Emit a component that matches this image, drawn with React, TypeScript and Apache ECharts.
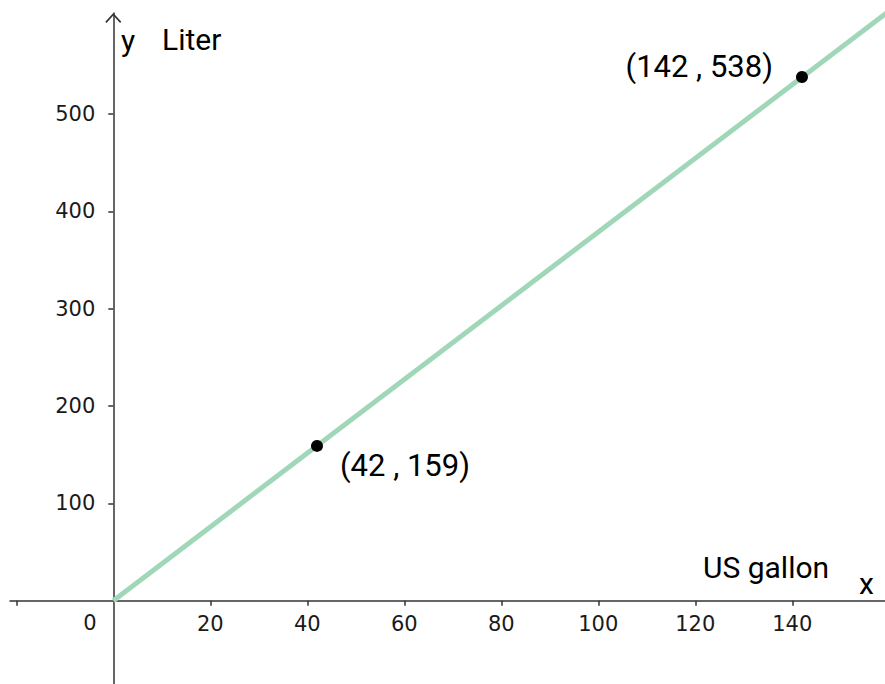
import React, { useEffect, useRef } from "react";
import * as echarts from "echarts";

// axis ticks and labels
const xTickValues = [-20, 20, 40, 60, 80, 100, 120, 140];
const xLabelValues = [20, 40, 60, 80, 100, 120, 140];
const yTickValues = [100, 200, 300, 400, 500];
const yLabelValues = [100, 200, 300, 400, 500];

// the conversion line (US gallon -> Liter)
const lineX = [0, 160];
const lineY = [0, 606];

// marked points
const pointX = [42, 142];
const pointY = [159, 538];
const pointText = ["(42 , 159)", "(142 , 538)"];

const AXIS_COLOR = "#333333";
const LINE_COLOR = "#a1d7b9";

// layout (pixels)
const W = 885;
const H = 684;
const GRID_LEFT = 10;
const GRID_TOP = 13;
const ORIGIN_X = 113.3;
const ORIGIN_Y = 600.7;

export default function App() {
  const ref = useRef<HTMLDivElement>(null);

  useEffect(() => {
    if (!ref.current) return;
    const chart = echarts.init(ref.current, null, { renderer: "svg" });

    const labelFont = {
      fontFamily: "DejaVu Sans",
      fontSize: 21,
      color: "#1a1a1a",
    };

    const option: any = {
      animation: false,
      grid: {
        left: GRID_LEFT,
        right: 0,
        top: GRID_TOP,
        bottom: 0,
        containLabel: false,
        outerBoundsMode: "none",
      },
      xAxis: {
        type: "value",
        position: "bottom",
        offset: -(H - ORIGIN_Y),
        min: -21.3,
        max: 159.12,
        axisLine: {
          show: true,
          onZero: false,
          lineStyle: { color: AXIS_COLOR, width: 1.5 },
        },
        axisTick: {
          show: true,
          customValues: xTickValues,
          length: 5,
          lineStyle: { color: AXIS_COLOR, width: 1.5 },
        },
        axisLabel: {
          show: true,
          customValues: xLabelValues,
          margin: 13,
          ...labelFont,
        },
        splitLine: { show: false },
      },
      yAxis: {
        type: "value",
        position: "left",
        offset: -(ORIGIN_X - GRID_LEFT),
        min: -85.6,
        max: 603.75,
        axisLine: {
          show: true,
          onZero: false,
          symbol: ["none", "path://M8,0 L16,8.6 L14.8,9.8 L8,2.4 L1.2,9.8 L0,8.6 Z"],
          symbolSize: [16, 10],
          symbolOffset: [0, -5],
          lineStyle: { color: AXIS_COLOR, width: 1.5 },
        },
        axisTick: {
          show: true,
          customValues: yTickValues,
          length: 5,
          lineStyle: { color: AXIS_COLOR, width: 1.5 },
        },
        axisLabel: {
          show: true,
          customValues: yLabelValues,
          margin: 18,
          ...labelFont,
        },
        splitLine: { show: false },
      },
      series: [
        {
          type: "line",
          data: lineX.map((x, i) => [x, lineY[i]]),
          showSymbol: false,
          symbol: "none",
          lineStyle: { color: LINE_COLOR, width: 5 },
          z: 1,
          silent: true,
        },
        {
          type: "scatter",
          data: [
            {
              value: [pointX[0], pointY[0]],
              label: {
                show: true,
                formatter: pointText[0],
                position: "right",
                offset: [12, 20],
              },
            },
            {
              value: [pointX[1], pointY[1]],
              label: {
                show: true,
                formatter: pointText[1],
                position: "left",
                offset: [-18, -10],
              },
            },
          ],
          symbol: "circle",
          symbolSize: 12,
          itemStyle: { color: "#000", opacity: 1 },
          label: {
            fontFamily: "Roboto",
            fontSize: 31,
            color: "#000",
          },
          z: 5,
          silent: true,
        },
        {
          type: "scatter",
          data: [
            {
              value: [0, 0],
              label: {
                show: true,
                formatter: "0",
                position: [-23.3, 22.3],
                align: "center",
                verticalAlign: "middle",
                color: "#1a1a1a",
              },
            },
          ],
          symbol: "circle",
          symbolSize: 0,
          itemStyle: { color: "#000", opacity: 1 },
          label: { ...labelFont },
          z: 5,
          silent: true,
        },
      ],
      graphic: [
        {
          type: "text",
          x: 121,
          y: 40,
          style: {
            text: "y",
            font: "30px Roboto",
            fill: "#000",
            align: "left",
            verticalAlign: "middle",
          },
        },
        {
          type: "text",
          x: 162,
          y: 39,
          style: {
            text: "Liter",
            font: "30px Roboto",
            fill: "#000",
            align: "left",
            verticalAlign: "middle",
          },
        },
        {
          type: "text",
          x: 703,
          y: 567,
          style: {
            text: "US gallon",
            font: "30px Roboto",
            fill: "#000",
            align: "left",
            verticalAlign: "middle",
          },
        },
        {
          type: "text",
          x: 859,
          y: 583,
          style: {
            text: "x",
            font: "30px Roboto",
            fill: "#000",
            align: "left",
            verticalAlign: "middle",
          },
        },
      ],
    };

    chart.setOption(option);
    return () => chart.dispose();
  }, []);

  return (
    <div
      ref={ref}
      style={{ position: "fixed", left: 0, top: 0, width: W, height: H, background: "#fff" }}
    />
  );
}
